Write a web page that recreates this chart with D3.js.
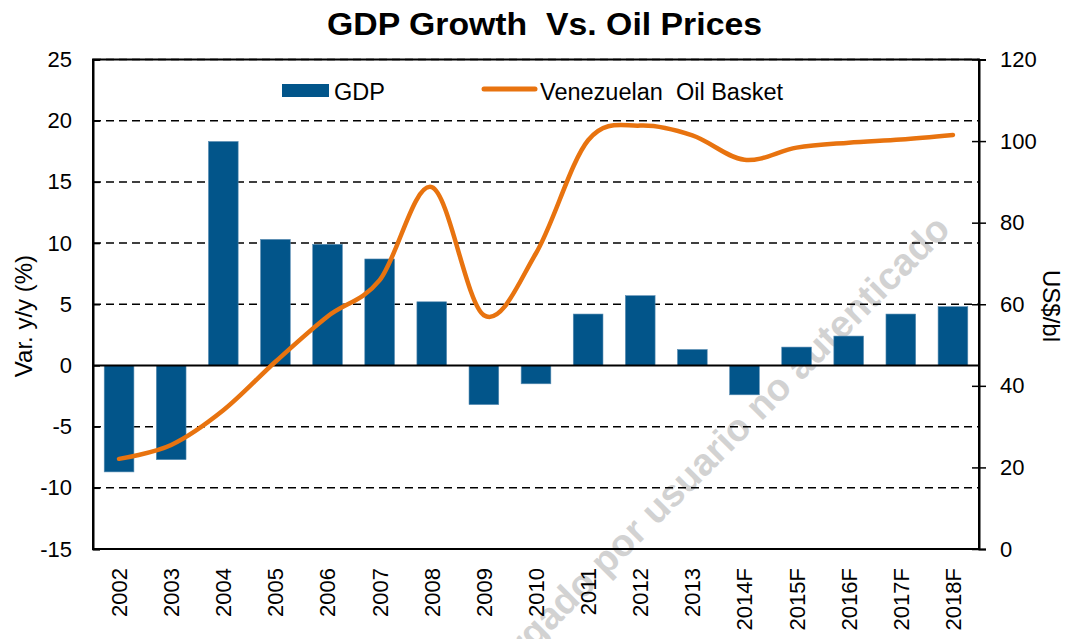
<!DOCTYPE html>
<html>
<head>
<meta charset="utf-8">
<script src="https://cdn.jsdelivr.net/npm/d3@7"></script>
<style>
  body { margin: 0; background: #fff; }
  svg { display: block; font-family: "Liberation Sans", Arial, sans-serif; }
</style>
</head>
<body>
<svg id="chart" width="1066" height="639"></svg>
<script>
// categories and values
const years = ["2002", "2003", "2004", "2005", "2006", "2007", "2008", "2009", "2010",
  "2011", "2012", "2013", "2014F", "2015F", "2016F", "2017F", "2018F"];
const gdpGrowth = [-8.7, -7.7, 18.3, 10.3, 9.9, 8.7, 5.2, -3.2, -1.5,
  4.2, 5.7, 1.3, -2.4, 1.5, 2.4, 4.2, 4.8];
const oilBasket = [22.1, 25.5, 34.0, 45.9, 57.0, 65.9, 88.7, 57.3, 72.5,
  100.2, 103.8, 101.4, 95.4, 98.4, 99.6, 100.4, 101.5];
const leftTicks = [-15, -10, -5, 0, 5, 10, 15, 20, 25];
const rightTicks = [0, 20, 40, 60, 80, 100, 120];

const barColor = "#02558a";
const lineColor = "#e8730f";

const svg = d3.select("#chart");
const plot = { left: 93, right: 979, top: 59.5, bottom: 549 };

//Scales
const x = d3.scaleBand()
  .domain(years)
  .range([plot.left, plot.right])
  .paddingInner(0.43)
  .paddingOuter(0.215);

const yLeft = d3.scaleLinear().domain([-15, 25]).range([plot.bottom, plot.top]);
const yRight = d3.scaleLinear().domain([0, 120]).range([plot.bottom, plot.top]);

//Watermark (sits behind the chart)
svg.append("text")
  .attr("transform", "translate(952,231) rotate(-45)")
  .attr("text-anchor", "end")
  .attr("font-size", 38)
  .attr("font-weight", "bold")
  .attr("fill", "#d2d2d2")
  .text("Descargado por usuario no autenticado");

//Dashed gridlines
svg.append("g")
  .selectAll("line")
  .data(leftTicks.filter((d) => d !== 0))
  .enter()
  .append("line")
  .attr("x1", plot.left)
  .attr("x2", plot.right)
  .attr("y1", (d) => yLeft(d))
  .attr("y2", (d) => yLeft(d))
  .attr("stroke", "#000")
  .attr("stroke-width", 1.5)
  .attr("stroke-dasharray", "8,5");

//Bars
svg.append("g")
  .selectAll("rect")
  .data(years)
  .enter()
  .append("rect")
  .attr("x", (d) => x(d))
  .attr("width", x.bandwidth())
  .attr("y", (d, i) => yLeft(Math.max(0, gdpGrowth[i])))
  .attr("height", (d, i) => Math.abs(yLeft(gdpGrowth[i]) - yLeft(0)))
  .attr("fill", barColor)
  .attr("stroke", "#5a8db3")
  .attr("stroke-width", 0.6);

//Zero line
svg.append("line")
  .attr("x1", plot.left)
  .attr("x2", plot.right)
  .attr("y1", yLeft(0))
  .attr("y2", yLeft(0))
  .attr("stroke", "#000")
  .attr("stroke-width", 2);

//Oil line
const oilLine = d3.line()
  .x((d, i) => x(years[i]) + x.bandwidth() / 2)
  .y((d) => yRight(d))
  .curve(d3.curveCardinal.tension(0));

svg.append("path")
  .datum(oilBasket)
  .attr("d", oilLine)
  .attr("fill", "none")
  .attr("stroke", lineColor)
  .attr("stroke-width", 4.5)
  .attr("stroke-linecap", "round");

//Frame
svg.append("rect")
  .attr("x", plot.left)
  .attr("y", plot.top)
  .attr("width", plot.right - plot.left)
  .attr("height", plot.bottom - plot.top)
  .attr("fill", "none")
  .attr("stroke", "#000")
  .attr("stroke-width", 2);

const plainNumber = (d) => String(d);

//Left axis
const leftAxis = svg.append("g")
  .attr("transform", `translate(${plot.left},0)`)
  .call(d3.axisLeft(yLeft).tickValues(leftTicks).tickFormat(plainNumber).tickSize(-7).tickPadding(21));
leftAxis.select(".domain").attr("stroke-width", 2);
leftAxis.selectAll(".tick line").attr("stroke-width", 1.5);
leftAxis.selectAll("text")
  .attr("font-size", 22)
  .attr("font-family", "Liberation Sans, Arial, sans-serif")
  .attr("fill", "#000");

//Right axis
const rightAxis = svg.append("g")
  .attr("transform", `translate(${plot.right},0)`)
  .call(d3.axisRight(yRight).tickValues(rightTicks).tickFormat(plainNumber).tickSize(7).tickPadding(14));
rightAxis.select(".domain").attr("stroke-width", 2);
rightAxis.selectAll(".tick line").attr("x1", -7).attr("stroke-width", 1.5);
rightAxis.selectAll("text")
  .attr("font-size", 22)
  .attr("font-family", "Liberation Sans, Arial, sans-serif")
  .attr("fill", "#000");

//Bottom axis, labels rotated
const bottomAxis = svg.append("g")
  .attr("transform", `translate(0,${plot.bottom})`)
  .call(d3.axisBottom(x).tickSize(0));
bottomAxis.select(".domain").remove();
bottomAxis.selectAll("text")
  .attr("transform", "rotate(-90)")
  .attr("x", -19)
  .attr("y", 0)
  .attr("dy", "0.36em")
  .style("text-anchor", "end")
  .attr("font-size", 22)
  .attr("font-family", "Liberation Sans, Arial, sans-serif")
  .attr("fill", "#000");

//Axis titles
svg.append("text")
  .attr("transform", "translate(32,316) rotate(-90)")
  .attr("text-anchor", "middle")
  .attr("font-size", 24)
  .text("Var. y/y (%)");

svg.append("text")
  .attr("transform", "translate(1043,306) rotate(90)")
  .attr("text-anchor", "middle")
  .attr("font-size", 24)
  .text("US$/bl");

//Title
svg.append("text")
  .attr("x", 327)
  .attr("y", 35)
  .attr("font-size", 32)
  .attr("font-weight", "bold")
  .attr("textLength", 435)
  .attr("lengthAdjust", "spacingAndGlyphs")
  .style("white-space", "pre")
  .text("GDP Growth  Vs. Oil Prices");

//Legend
const legend = svg.append("g").attr("id", "legend");
legend.append("rect")
  .attr("x", 282).attr("y", 84)
  .attr("width", 47).attr("height", 13)
  .attr("fill", barColor);
legend.append("text")
  .attr("x", 334).attr("y", 100)
  .attr("font-size", 23.5)
  .text("GDP");
legend.append("line")
  .attr("x1", 484).attr("x2", 535)
  .attr("y1", 89).attr("y2", 89)
  .attr("stroke", lineColor)
  .attr("stroke-width", 5)
  .attr("stroke-linecap", "round");
legend.append("text")
  .attr("x", 540).attr("y", 100)
  .attr("font-size", 23.5)
  .style("white-space", "pre")
  .text("Venezuelan  Oil Basket");
</script>
</body>
</html>
